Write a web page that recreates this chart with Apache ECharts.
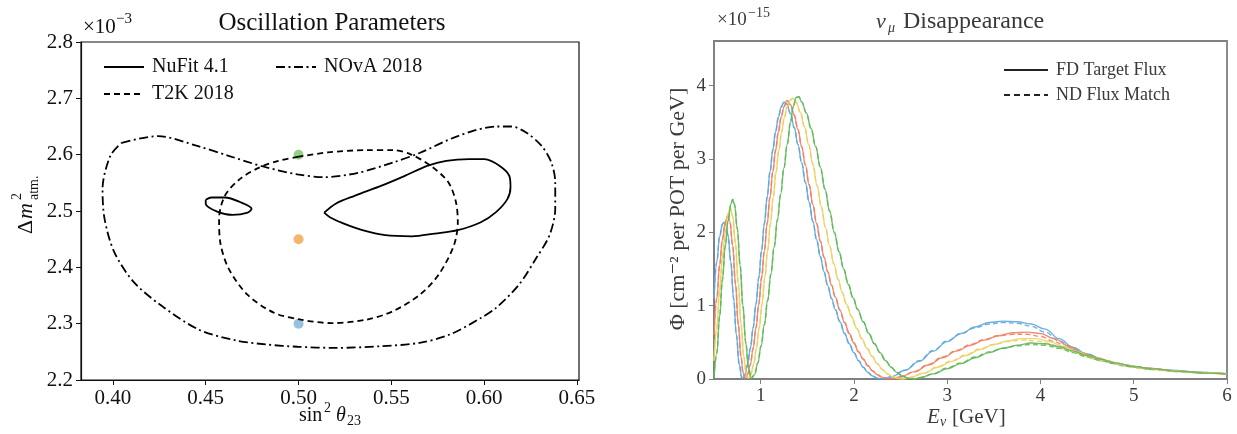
<!DOCTYPE html>
<html>
<head>
<meta charset="utf-8">
<script src="https://cdn.jsdelivr.net/npm/echarts@6/dist/echarts.min.js"></script>
<style>
html,body{margin:0;padding:0;background:#fff;}
#chart{width:1237px;height:434px;}
</style>
</head>
<body>
<div id="chart"></div>
<script>
// ---------------- LEFT PANEL DATA ----------------
const sin2Ticks = [0.40, 0.45, 0.50, 0.55, 0.60, 0.65];
const dm2Ticks = [2.2, 2.3, 2.4, 2.5, 2.6, 2.7, 2.8];
const nufitMain = [[0.5138,2.497],[0.5200,2.513],[0.5302,2.527],[0.5447,2.545],[0.5570,2.562],[0.5693,2.580],[0.5796,2.589],[0.5920,2.592],[0.6002,2.592],[0.6084,2.580],[0.6136,2.562],[0.6142,2.542],[0.6125,2.521],[0.6064,2.498],[0.5982,2.480],[0.5858,2.466],[0.5735,2.460],[0.5611,2.455],[0.5467,2.457],[0.5344,2.466],[0.5241,2.478],[0.5169,2.489],[0.5138,2.497]];
const nufitIsland = [[0.4500,2.520],[0.4531,2.524],[0.4603,2.524],[0.4685,2.516],[0.4747,2.504],[0.4726,2.497],[0.4644,2.493],[0.4562,2.499],[0.4500,2.513],[0.4500,2.520]];
const t2k = [[0.4994,2.596],[0.5158,2.604],[0.5364,2.608],[0.5508,2.608],[0.5601,2.601],[0.5714,2.580],[0.5807,2.551],[0.5848,2.516],[0.5858,2.480],[0.5837,2.439],[0.5755,2.387],[0.5652,2.351],[0.5508,2.322],[0.5364,2.307],[0.5179,2.301],[0.5014,2.307],[0.4870,2.319],[0.4726,2.351],[0.4623,2.398],[0.4578,2.445],[0.4572,2.486],[0.4603,2.527],[0.4685,2.557],[0.4788,2.577],[0.4891,2.589],[0.4994,2.596]];
const nova = [[0.4047,2.621],[0.4243,2.633],[0.4459,2.615],[0.4623,2.598],[0.4809,2.579],[0.4994,2.565],[0.5138,2.560],[0.5323,2.568],[0.5508,2.586],[0.5652,2.603],[0.5858,2.633],[0.6064,2.650],[0.6146,2.650],[0.6228,2.639],[0.6311,2.615],[0.6362,2.586],[0.6383,2.551],[0.6383,2.504],[0.6352,2.457],[0.6280,2.416],[0.6187,2.369],[0.6064,2.328],[0.5982,2.310],[0.5817,2.281],[0.5652,2.266],[0.5447,2.260],[0.5200,2.257],[0.4994,2.259],[0.4829,2.263],[0.4665,2.270],[0.4459,2.290],[0.4253,2.334],[0.4109,2.375],[0.4006,2.428],[0.3955,2.486],[0.3944,2.539],[0.3986,2.598],[0.4047,2.621]];
const pointSin2 = [0.5, 0.5, 0.5];
const pointDm2 = [2.6, 2.45, 2.3];

// ---------------- RIGHT PANEL DATA ----------------
const energyTicks = [1, 2, 3, 4, 5, 6];
const fluxTicks = [0, 1, 2, 3, 4];
const fdBlue = [[0.50,1.1],[0.53,1.6],[0.56,1.94],[0.59,2.11],[0.61,2.14],[0.63,2.1],[0.65,1.96],[0.68,1.6],[0.71,1.1],[0.74,0.6],[0.77,0.2],[0.80,0.01],[0.83,0.05],[0.86,0.2],[0.89,0.42],[0.92,0.7],[0.95,1.02],[0.98,1.38],[1.01,1.75],[1.04,2.12],[1.07,2.48],[1.10,2.82],[1.13,3.12],[1.16,3.37],[1.19,3.57],[1.22,3.71],[1.25,3.78],[1.28,3.75],[1.32,3.62],[1.36,3.43],[1.40,3.2],[1.44,2.95],[1.48,2.68],[1.52,2.41],[1.56,2.15],[1.60,1.9],[1.64,1.67],[1.68,1.46],[1.72,1.27],[1.76,1.1],[1.80,0.95],[1.85,0.78],[1.90,0.62],[1.95,0.48],[2.00,0.36],[2.05,0.25],[2.10,0.16],[2.15,0.09],[2.20,0.04],[2.25,0.01],[2.30,0.0],[2.40,0.03],[2.55,0.12],[2.70,0.24],[2.85,0.38],[3.00,0.51],[3.15,0.62],[3.30,0.71],[3.45,0.77],[3.60,0.79],[3.75,0.78],[3.90,0.75],[4.05,0.68],[4.20,0.55],[4.35,0.43],[4.50,0.34],[4.70,0.25],[4.90,0.19],[5.10,0.155],[5.40,0.12],[5.70,0.093],[6.00,0.072]];
const ndBlueTail = [[2.55,0.12],[2.70,0.25],[2.85,0.39],[3.00,0.52],[3.15,0.62],[3.30,0.7],[3.45,0.75],[3.60,0.77],[3.75,0.76],[3.90,0.72],[4.05,0.64],[4.20,0.52],[4.35,0.41],[4.50,0.32],[4.70,0.24],[4.90,0.18],[5.10,0.15],[5.40,0.115],[5.70,0.09],[6.00,0.07]];
const fdRed = [[0.50,0.6],[0.53,1.1],[0.56,1.55],[0.59,1.9],[0.62,2.13],[0.645,2.22],[0.67,2.15],[0.70,1.82],[0.73,1.3],[0.76,0.75],[0.79,0.3],[0.81,0.1],[0.83,0.01],[0.86,0.06],[0.89,0.2],[0.92,0.42],[0.95,0.7],[0.98,1.02],[1.01,1.38],[1.04,1.75],[1.07,2.12],[1.10,2.48],[1.13,2.82],[1.16,3.12],[1.19,3.37],[1.22,3.57],[1.25,3.71],[1.28,3.8],[1.32,3.74],[1.36,3.6],[1.40,3.4],[1.44,3.17],[1.48,2.92],[1.52,2.65],[1.56,2.38],[1.60,2.12],[1.64,1.88],[1.68,1.66],[1.72,1.46],[1.76,1.28],[1.80,1.12],[1.85,0.94],[1.90,0.77],[1.95,0.62],[2.00,0.49],[2.05,0.37],[2.10,0.27],[2.15,0.18],[2.20,0.11],[2.25,0.06],[2.30,0.025],[2.35,0.005],[2.40,0.0],[2.50,0.03],[2.65,0.1],[2.80,0.19],[2.95,0.29],[3.10,0.38],[3.25,0.46],[3.40,0.53],[3.55,0.59],[3.70,0.63],[3.85,0.64],[4.00,0.62],[4.15,0.55],[4.30,0.45],[4.45,0.36],[4.60,0.29],[4.80,0.22],[5.00,0.17],[5.20,0.14],[5.50,0.105],[5.80,0.082],[6.00,0.07]];
const ndRedTail = [[2.65,0.1],[2.80,0.2],[2.95,0.3],[3.10,0.39],[3.25,0.47],[3.40,0.54],[3.55,0.59],[3.70,0.61],[3.85,0.61],[4.00,0.58],[4.15,0.51],[4.30,0.42],[4.45,0.34],[4.60,0.27],[4.80,0.21],[5.00,0.165],[5.20,0.135],[5.50,0.1],[5.80,0.08],[6.00,0.068]];
const fdYellow = [[0.50,0.25],[0.53,0.7],[0.56,1.2],[0.59,1.65],[0.62,2.0],[0.65,2.25],[0.675,2.33],[0.70,2.22],[0.73,1.85],[0.76,1.3],[0.79,0.75],[0.82,0.3],[0.845,0.07],[0.865,0.01],[0.895,0.06],[0.925,0.2],[0.955,0.42],[0.985,0.7],[1.015,1.02],[1.045,1.38],[1.075,1.75],[1.105,2.12],[1.135,2.48],[1.165,2.82],[1.195,3.12],[1.225,3.37],[1.255,3.57],[1.285,3.71],[1.315,3.8],[1.345,3.83],[1.38,3.78],[1.425,3.64],[1.47,3.44],[1.515,3.2],[1.56,2.93],[1.605,2.64],[1.65,2.35],[1.695,2.07],[1.74,1.81],[1.785,1.57],[1.83,1.36],[1.875,1.18],[1.92,1.02],[1.975,0.85],[2.03,0.69],[2.085,0.55],[2.14,0.42],[2.195,0.31],[2.25,0.21],[2.305,0.13],[2.36,0.07],[2.415,0.03],[2.47,0.005],[2.52,0.0],[2.60,0.02],[2.75,0.08],[2.90,0.16],[3.05,0.24],[3.20,0.32],[3.35,0.4],[3.50,0.47],[3.65,0.52],[3.80,0.55],[3.95,0.55],[4.10,0.51],[4.25,0.44],[4.40,0.37],[4.55,0.3],[4.70,0.25],[4.90,0.19],[5.10,0.15],[5.40,0.113],[5.70,0.088],[6.00,0.068]];
const ndYellowTail = [[2.75,0.08],[2.90,0.17],[3.05,0.25],[3.20,0.33],[3.35,0.41],[3.50,0.47],[3.65,0.51],[3.80,0.53],[3.95,0.52],[4.10,0.48],[4.25,0.41],[4.40,0.35],[4.55,0.28],[4.70,0.23],[4.90,0.18],[5.10,0.14],[5.40,0.108],[5.70,0.085],[6.00,0.066]];
const fdGreen = [[0.50,0.02],[0.53,0.35],[0.56,0.85],[0.59,1.35],[0.62,1.8],[0.65,2.15],[0.68,2.38],[0.70,2.45],[0.72,2.38],[0.75,2.05],[0.78,1.55],[0.81,1.0],[0.84,0.5],[0.87,0.15],[0.90,0.01],[0.935,0.06],[0.97,0.22],[1.005,0.45],[1.04,0.74],[1.075,1.07],[1.11,1.43],[1.145,1.8],[1.18,2.17],[1.215,2.52],[1.25,2.88],[1.285,3.2],[1.32,3.5],[1.35,3.72],[1.38,3.84],[1.41,3.85],[1.44,3.78],[1.49,3.63],[1.54,3.42],[1.59,3.17],[1.64,2.89],[1.69,2.59],[1.74,2.29],[1.79,2.0],[1.84,1.74],[1.89,1.5],[1.94,1.29],[1.99,1.11],[2.04,0.95],[2.10,0.78],[2.16,0.62],[2.22,0.48],[2.28,0.36],[2.34,0.25],[2.40,0.16],[2.46,0.09],[2.52,0.04],[2.58,0.01],[2.64,0.0],[2.72,0.02],[2.85,0.07],[3.00,0.14],[3.15,0.21],[3.30,0.29],[3.45,0.36],[3.60,0.42],[3.75,0.46],[3.90,0.49],[4.05,0.48],[4.20,0.44],[4.35,0.38],[4.50,0.32],[4.65,0.27],[4.80,0.22],[5.00,0.17],[5.20,0.138],[5.50,0.104],[5.80,0.08],[6.00,0.066]];
const ndGreenTail = [[2.85,0.07],[3.00,0.15],[3.15,0.22],[3.30,0.3],[3.45,0.37],[3.60,0.42],[3.75,0.45],[3.90,0.47],[4.05,0.46],[4.20,0.42],[4.35,0.36],[4.50,0.3],[4.65,0.25],[4.80,0.21],[5.00,0.16],[5.20,0.13],[5.50,0.1],[5.80,0.078],[6.00,0.064]];

// ---------------- STYLE ----------------
const SERIF = '"Liberation Serif", "DejaVu Serif", serif';
const dotColors = ['#7cc46a', '#f3a24d', '#7eb0d9'];
const cBlue = '#5ea9dd', cRed = '#ef7f62', cYellow = '#ecd064', cGreen = '#5fb95a';
const rightAxisColor = '#808080';
const rightText = '#3a3a3a';

function txt(x, y, text, size, opts) {
  opts = opts || {};
  return {
    type: 'text', x: x, y: y, silent: true,
    style: {
      text: text,
      font: (opts.italic ? 'italic ' : '') + size + 'px ' + SERIF,
      fill: opts.color || '#111',
      textAlign: opts.align || 'left', align: opts.align || 'left',
      textVerticalAlign: 'middle', verticalAlign: 'middle'
    }
  };
}

const chart = echarts.init(document.getElementById('chart'), null, {renderer: 'canvas'});

const leftAxisLabel = {fontFamily: SERIF, fontSize: 21, color: '#111', margin: 8};
const rightAxisLabel = {fontFamily: SERIF, fontSize: 19, color: rightText, margin: 8};
const hiddenSymbol = {color: 'transparent', borderColor: 'transparent', borderWidth: 0, opacity: 0};
const legendText = {fontFamily: SERIF, fontSize: 20, color: '#111', padding: [0, 0, 0, 3]};

const option = {
  animation: false,
  backgroundColor: '#fff',
  grid: [
    {left: 81, top: 42, width: 498, height: 338, show: true, borderColor: '#111', borderWidth: 1.2, backgroundColor: 'transparent'},
    {left: 714, top: 41, width: 513, height: 338, show: true, borderColor: rightAxisColor, borderWidth: 1.8, backgroundColor: 'transparent'}
  ],
  xAxis: [
    {gridIndex: 0, type: 'value', min: 0.3828, max: 0.6511,
     axisLine: {show: true, lineStyle: {color: '#111', width: 1.2}},
     axisTick: {show: true, length: 5, customValues: sin2Ticks, lineStyle: {color: '#111'}},
     axisLabel: Object.assign({customValues: sin2Ticks, formatter: v => Number(v).toFixed(2)}, leftAxisLabel),
     splitLine: {show: false}},
    {gridIndex: 1, type: 'value', min: 0.5, max: 6,
     axisLine: {show: true, lineStyle: {color: rightAxisColor, width: 1.8}},
     axisTick: {show: true, length: 5, customValues: energyTicks, lineStyle: {color: rightAxisColor}},
     axisLabel: Object.assign({customValues: energyTicks, formatter: v => String(Math.round(v))}, rightAxisLabel),
     splitLine: {show: false}}
  ],
  yAxis: [
    {gridIndex: 0, type: 'value', min: 2.2, max: 2.8,
     axisLine: {show: true, lineStyle: {color: '#111', width: 1.2}},
     axisTick: {show: true, length: 5, customValues: dm2Ticks, lineStyle: {color: '#111'}},
     axisLabel: Object.assign({customValues: dm2Ticks, formatter: v => Number(v).toFixed(1)}, leftAxisLabel),
     splitLine: {show: false}},
    {gridIndex: 1, type: 'value', min: 0, max: 4.61,
     axisLine: {show: true, lineStyle: {color: rightAxisColor, width: 1.8}},
     axisTick: {show: true, length: 5, customValues: fluxTicks, lineStyle: {color: rightAxisColor}},
     axisLabel: Object.assign({customValues: fluxTicks, formatter: v => String(Math.round(v))}, rightAxisLabel),
     splitLine: {show: false}}
  ],
  legend: [
    {data: ['NuFit 4.1'], left: 98, top: 52, itemWidth: 40, itemHeight: 14, itemStyle: hiddenSymbol, textStyle: legendText},
    {data: ['NOvA 2018'], left: 270, top: 52, itemWidth: 40, itemHeight: 14, itemStyle: hiddenSymbol, textStyle: legendText},
    {data: ['T2K 2018'], left: 98, top: 79, itemWidth: 40, itemHeight: 14, itemStyle: hiddenSymbol, textStyle: legendText},
    {data: ['FD Target Flux', 'ND Flux Match'], orient: 'vertical', left: 998, top: 56, itemWidth: 44, itemHeight: 14, itemGap: 7,
     itemStyle: hiddenSymbol,
     textStyle: {fontFamily: SERIF, fontSize: 18, color: rightText, padding: [0, 0, 0, 3]}}
  ],
  series: [
    {name: 'NuFit 4.1', type: 'line', xAxisIndex: 0, yAxisIndex: 0, data: nufitMain, showSymbol: false, symbol: 'none', smooth: 0.3,
     lineStyle: {color: '#000', width: 1.8, type: 'solid'}, itemStyle: {color: '#000'}},
    {name: 'NuFit 4.1', type: 'line', xAxisIndex: 0, yAxisIndex: 0, data: nufitIsland, showSymbol: false, symbol: 'none', smooth: 0.3,
     lineStyle: {color: '#000', width: 1.8, type: 'solid'}, itemStyle: {color: '#000'}},
    {name: 'T2K 2018', type: 'line', xAxisIndex: 0, yAxisIndex: 0, data: t2k, showSymbol: false, symbol: 'none', smooth: 0.3,
     lineStyle: {color: '#000', width: 1.8, type: [6, 4]}, itemStyle: {color: '#000'}},
    {name: 'NOvA 2018', type: 'line', xAxisIndex: 0, yAxisIndex: 0, data: nova, showSymbol: false, symbol: 'none', smooth: 0.3,
     lineStyle: {color: '#000', width: 1.8, type: [9, 3.5, 2, 3.5]}, itemStyle: {color: '#000'}},
    {name: 'points', type: 'scatter', xAxisIndex: 0, yAxisIndex: 0, symbolSize: 10,
     data: pointSin2.map((x, i) => ({value: [x, pointDm2[i]], itemStyle: {color: dotColors[i]}}))},
    {name: 'FD Target Flux', type: 'line', xAxisIndex: 1, yAxisIndex: 1, data: [], symbol: 'none', lineStyle: {color: '#222', width: 1.8}, itemStyle: {color: '#222'}},
    {name: 'ND Flux Match', type: 'line', xAxisIndex: 1, yAxisIndex: 1, data: [], symbol: 'none', lineStyle: {color: '#222', width: 1.8, type: [6, 4]}, itemStyle: {color: '#222'}}
  ],
  graphic: []
};

function withTail(fd, tail) {
  // ND curve coincides with the FD curve up to the start of its separately read tail
  return fd.filter(p => p[0] < tail[0][0]).concat(tail);
}
const curveDefs = [
  [fdBlue, cBlue, 'solid'], [withTail(fdBlue, ndBlueTail), cBlue, [5, 3]],
  [fdRed, cRed, 'solid'], [withTail(fdRed, ndRedTail), cRed, [5, 3]],
  [fdYellow, cYellow, 'solid'], [withTail(fdYellow, ndYellowTail), cYellow, [5, 3]],
  [fdGreen, cGreen, 'solid'], [withTail(fdGreen, ndGreenTail), cGreen, [5, 3]]
];
curveDefs.forEach(function (d, i) {
  const dashed = d[2] !== 'solid';
  option.series.push({
    name: 'curve' + i, type: 'line', xAxisIndex: 1, yAxisIndex: 1, data: d[0], symbol: 'none', showSymbol: false,
    smooth: 0.4, smoothMonotone: 'x', z: dashed ? 2 : 3,
    lineStyle: {color: d[1], width: 1.4, type: d[2], opacity: 0.9}
  });
});

const g = option.graphic;
// left panel texts
g.push(txt(332, 23, 'Oscillation Parameters', 25, {align: 'center'}));
g.push(txt(83, 27, '×10', 21));
g.push(txt(116, 19, '−3', 15));
g.push(txt(299, 416, 'sin', 20));
g.push(txt(324, 408, '2', 14));
g.push(txt(336, 416, 'θ', 20, {italic: true}));
g.push(txt(347, 421, '23', 14));
g.push({type: 'group', x: 26, y: 194, rotation: Math.PI / 2, children: [
  txt(-40, 0, 'Δ', 22), txt(-25, 0, 'm', 22, {italic: true}), txt(-6, -9, '2', 14), txt(-6, 8, 'atm.', 14)
]});
// right panel texts
g.push(txt(876, 22, 'ν', 22, {italic: true, color: rightText}));
g.push(txt(888, 28, 'μ', 14, {italic: true, color: rightText}));
g.push(txt(903, 22, 'Disappearance', 24, {color: rightText}));
g.push(txt(717, 20, '×10', 19, {color: rightText}));
g.push(txt(748, 13, '−15', 14, {color: rightText}));
g.push(txt(927, 417, 'E', 21, {italic: true, color: rightText}));
g.push(txt(940, 422, 'ν', 14, {italic: true, color: rightText}));
g.push(txt(952, 417, '[GeV]', 21, {color: rightText}));
g.push({type: 'group', x: 678, y: 209, rotation: Math.PI / 2, children: [
  txt(0, 0, 'Φ [cm⁻² per POT per GeV]', 22, {align: 'center', color: rightText})
]});

chart.setOption(option);
</script>
</body>
</html>
